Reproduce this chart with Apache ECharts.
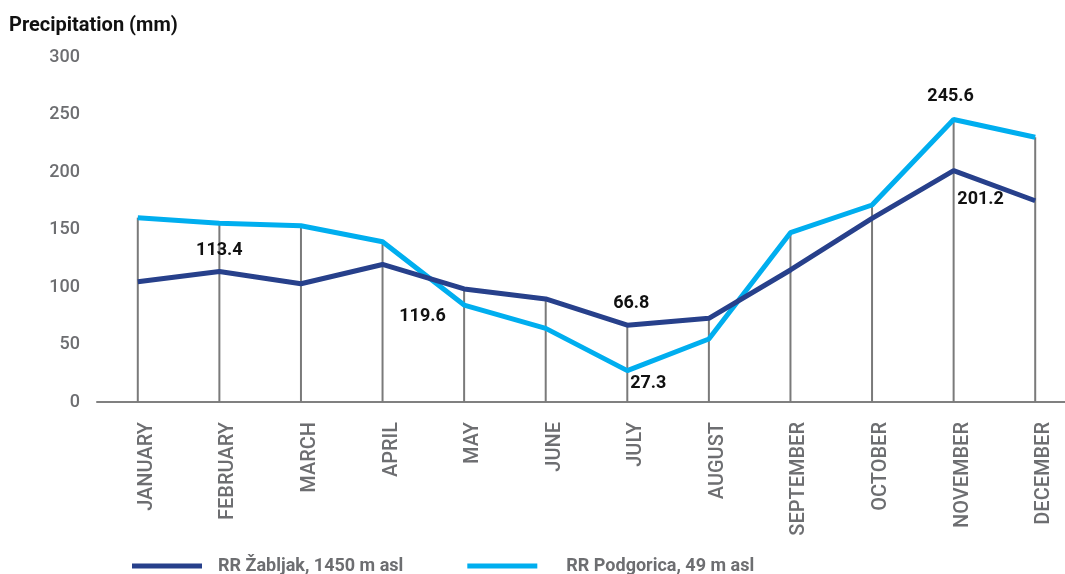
<!DOCTYPE html>
<html>
<head>
<meta charset="utf-8">
<style>
  html, body { margin: 0; padding: 0; background: #ffffff; }
  #chart { width: 1065px; height: 574px; }
</style>
<script src="https://cdn.jsdelivr.net/npm/echarts@6/dist/echarts.min.js"></script>
</head>
<body>
<div id="chart"></div>
<script>
// Monthly precipitation (mm)
const months = ['JANUARY', 'FEBRUARY', 'MARCH', 'APRIL', 'MAY', 'JUNE',
                'JULY', 'AUGUST', 'SEPTEMBER', 'OCTOBER', 'NOVEMBER', 'DECEMBER'];
const zabljak = [104.6, 113.4, 102.8, 119.6, 98.3, 89.6, 66.8, 72.8, 114.8, 159.7, 201.2, 175.0];
const podgorica = [160.3, 155.4, 153.2, 139.4, 84.3, 64.0, 27.3, 54.8, 147.2, 171.3, 245.6, 230.2];
const seriesNames = ['RR Žabljak, 1450 m asl', 'RR Podgorica, 49 m asl'];
const yTicks = { min: 0, max: 300, step: 50 };

// Which points carry a value label, and where the label sits relative to the point
const zabljakLabels = { 1: [0, -21], 3: [40, 52], 6: [4, -22], 10: [27, 29] };
const podgoricaLabels = { 6: [21, 13], 10: [-3, -23] };

const FONT = 'Roboto, "DejaVu Sans", sans-serif';
const GREY = '#6d6e71';

function withLabels(values, labels) {
  return values.map((v, i) => {
    if (!(i in labels)) return v;
    return {
      value: v,
      label: {
        show: true,
        position: 'inside',
        offset: labels[i],
        formatter: v.toFixed(1),
        color: '#111111',
        fontFamily: FONT,
        fontWeight: 'bold',
        fontSize: 18
      }
    };
  });
}

// Vertical guide from the axis up to the higher of the two stations
const guides = months.map((_, i) => Math.max(zabljak[i], podgorica[i]));

const chart = echarts.init(document.getElementById('chart'), null, { renderer: 'canvas' });

chart.setOption({
  animation: false,
  title: {
    text: 'Precipitation (mm)',
    left: 4,
    top: 11,
    textStyle: { fontFamily: FONT, fontWeight: 'bold', fontSize: 20, color: '#111111' }
  },
  grid: { left: 97, top: 57, width: 979, height: 345, outerBoundsMode: 'none' },
  legend: {
    data: [
      { name: seriesNames[0] },
      { name: seriesNames[1], textStyle: { padding: [0, 0, 0, 24] } }
    ],
    left: 127,
    top: 552,
    icon: 'rect',
    itemWidth: 70,
    itemHeight: 5,
    itemGap: 64,
    textStyle: { fontFamily: FONT, fontWeight: 'bold', fontSize: 18, color: GREY, padding: [0, 0, 0, 11] }
  },
  xAxis: {
    type: 'category',
    data: months,
    boundaryGap: true,
    axisLine: { lineStyle: { color: '#808080', width: 2 } },
    axisTick: { show: false },
    axisLabel: {
      rotate: 90,
      margin: 20,
      interval: 0,
      color: GREY,
      fontFamily: FONT,
      fontWeight: 500,
      fontSize: 20,
      verticalAlign: 'top',
      lineHeight: 18
    },
    splitLine: { show: false }
  },
  yAxis: {
    type: 'value',
    min: yTicks.min,
    max: yTicks.max,
    interval: yTicks.step,
    axisLine: { show: false },
    axisTick: { show: false },
    splitLine: { show: false },
    axisLabel: { color: GREY, fontFamily: FONT, fontWeight: 500, fontSize: 18, margin: 17 }
  },
  series: [
    {
      name: 'guides',
      type: 'bar',
      data: guides,
      barWidth: 2,
      itemStyle: { color: '#7a7a7a' },
      silent: true,
      z: 1
    },
    {
      name: seriesNames[0],
      type: 'line',
      data: withLabels(zabljak, zabljakLabels),
      showSymbol: true,
      symbol: 'circle',
      symbolSize: 0,
      lineStyle: { color: '#27408b', width: 5 },
      itemStyle: { color: '#27408b' },
      z: 3
    },
    {
      name: seriesNames[1],
      type: 'line',
      data: withLabels(podgorica, podgoricaLabels),
      showSymbol: true,
      symbol: 'circle',
      symbolSize: 0,
      lineStyle: { color: '#00aeef', width: 5 },
      itemStyle: { color: '#00aeef' },
      z: 2
    }
  ]
});
</script>
</body>
</html>
